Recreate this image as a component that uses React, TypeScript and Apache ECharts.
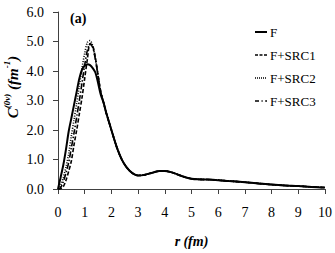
import React, { useEffect, useRef } from "react";
import * as echarts from "echarts";

const rValues = [
  0, 0.1, 0.2, 0.3, 0.4, 0.5, 0.6, 0.7, 0.8, 0.9, 1.0, 1.1, 1.2, 1.3, 1.4, 1.5, 1.6, 1.7, 1.8,
  1.9, 2.0, 2.2, 2.4, 2.6, 2.8, 3.0, 3.2, 3.4, 3.6, 3.8, 4.0, 4.2, 4.4, 4.6, 4.8, 5.0,
  5.2, 5.6, 6.0, 6.4, 7.0, 7.5, 8.0, 8.5, 9.0, 9.5, 10,
];
const fValues = [
  0, 0.4, 0.82, 1.35, 1.95, 2.4, 2.85, 3.3, 3.75, 4.05, 4.18, 4.23, 4.2, 4.1, 3.95, 3.6, 3.2, 2.95, 2.6,
  2.3, 2.0, 1.42, 0.98, 0.7, 0.53, 0.46, 0.47, 0.52, 0.57, 0.61, 0.61, 0.58, 0.52, 0.45, 0.39, 0.35,
  0.33, 0.32, 0.3, 0.27, 0.23, 0.19, 0.15, 0.12, 0.1, 0.07, 0.05,
];
// short-range part (r = 0 .. 1.8); beyond it the SRC curves coincide with F
const src1Short = [0, 0.01, 0.08, 0.3, 0.6, 0.95, 1.5, 2.0, 2.55, 3.1, 3.75, 4.4, 4.92, 4.85, 4.45, 3.85, 3.3, 2.95, 2.6];
const src2Short = [0, 0.12, 0.4, 0.75, 1.2, 1.8, 2.35, 2.9, 3.5, 4.1, 4.6, 4.97, 5.03, 4.85, 4.4, 3.85, 3.3, 2.95, 2.6];
const src3Short = [0, 0.05, 0.25, 0.55, 0.9, 1.4, 1.9, 2.45, 3.0, 3.6, 4.2, 4.7, 4.92, 4.8, 4.4, 3.85, 3.3, 2.95, 2.6];

const seriesNames = ["F", "F+SRC1", "F+SRC2", "F+SRC3"];
const yTicks = ["0.0", "1.0", "2.0", "3.0", "4.0", "5.0", "6.0"];

const full = (short: number[]) => short.concat(fValues.slice(short.length));
const pairs = (vals: number[]) => vals.map((v, i) => [rValues[i], v]);

const FONT = "'Liberation Serif', 'Times New Roman', serif";
const AX = "#404040";

export default function App() {
  const ref = useRef<HTMLDivElement>(null);
  useEffect(() => {
    if (!ref.current) return;
    const chart = echarts.init(ref.current, undefined, { renderer: "svg" });
    const dashes: any[] = ["solid", [4, 2], [1, 1.5], [6, 2, 1.5, 2]];
    const legendDashes: any[] = [null, [3, 1.5], [1, 1], [4, 2.5, 1.2, 2.5]];
    const widths = [2, 1.6, 1.6, 1.6];
    const datas = [fValues, full(src1Short), full(src2Short), full(src3Short)];
    const lineTop = 32;
    const legendStep = 23;
    const legendLines = seriesNames.map((_, k) => ({
      type: "line",
      shape: { x1: 255, y1: lineTop + k * legendStep, x2: 267, y2: lineTop + k * legendStep },
      style: { stroke: "#000", lineWidth: k === 0 ? 2 : 1.4, lineDash: legendDashes[k] },
    }));
    chart.setOption({
      animation: false,
      grid: { left: 58, right: 9, top: 12, bottom: 58, containLabel: false },
      xAxis: {
        type: "value",
        min: 0,
        max: 10,
        interval: 1,
        name: "{i|r} {i|(fm)}",
        nameLocation: "middle",
        nameGap: 45,
        nameTextStyle: {
          rich: { i: { fontFamily: FONT, fontSize: 14, fontStyle: "italic", fontWeight: "bold", color: "#000" } },
        },
        axisLine: { lineStyle: { color: AX, width: 1 } },
        axisTick: { inside: false, length: 5, lineStyle: { color: AX } },
        axisLabel: { margin: 16, fontFamily: FONT, fontSize: 14, color: "#000" },
        splitLine: { show: false },
      },
      yAxis: {
        type: "value",
        min: 0,
        max: 6,
        interval: 1,
        axisLine: { show: true, lineStyle: { color: AX, width: 1 } },
        axisTick: { show: true, inside: false, length: 5, lineStyle: { color: AX } },
        axisLabel: {
          margin: 14,
          fontFamily: FONT,
          fontSize: 14,
          color: "#000",
          formatter: (v: number) => yTicks[Math.round(v)] ?? v.toFixed(1),
        },
        splitLine: { show: false },
      },
      legend: {
        orient: "vertical",
        left: 250,
        top: 20,
        itemGap: legendStep - 14,
        itemWidth: 13,
        itemHeight: 14,
        icon: "none",
        data: seriesNames,
        textStyle: { fontFamily: FONT, fontSize: 13, color: "#000", padding: [0, 0, 0, -3], lineHeight: 14 },
      },
      graphic: [
        ...legendLines,
        {
          type: "text",
          left: 70,
          top: 11,
          style: { text: "(a)", font: `bold 14px ${FONT}`, fill: "#000" },
        },
        {
          type: "text",
          x: 20,
          y: 87,
          rotation: Math.PI / 2,
          style: {
            text: "{m|C}{s|(0ν)}{m| (fm}{s|-1}{m|)}",
            align: "center",
            verticalAlign: "bottom",
            rich: {
              m: { font: `italic bold 15px ${FONT}`, fill: "#000", lineHeight: 18, verticalAlign: "bottom" },
              s: { font: `italic bold 9px ${FONT}`, fill: "#000", lineHeight: 18, verticalAlign: "top" },
            },
          },
        },
      ],
      series: seriesNames.map((name, k) => ({
        name,
        type: "line",
        data: pairs(datas[k]),
        smooth: 0.3,
        showSymbol: false,
        symbol: "none",
        lineStyle: { color: "#000", width: widths[k], type: dashes[k] },
        itemStyle: { color: "#000" },
        z: 10 - k,
      })),
    });
    return () => chart.dispose();
  }, []);
  return <div ref={ref} style={{ width: 335, height: 253, position: "absolute", left: 0, top: 0 }} />;
}
